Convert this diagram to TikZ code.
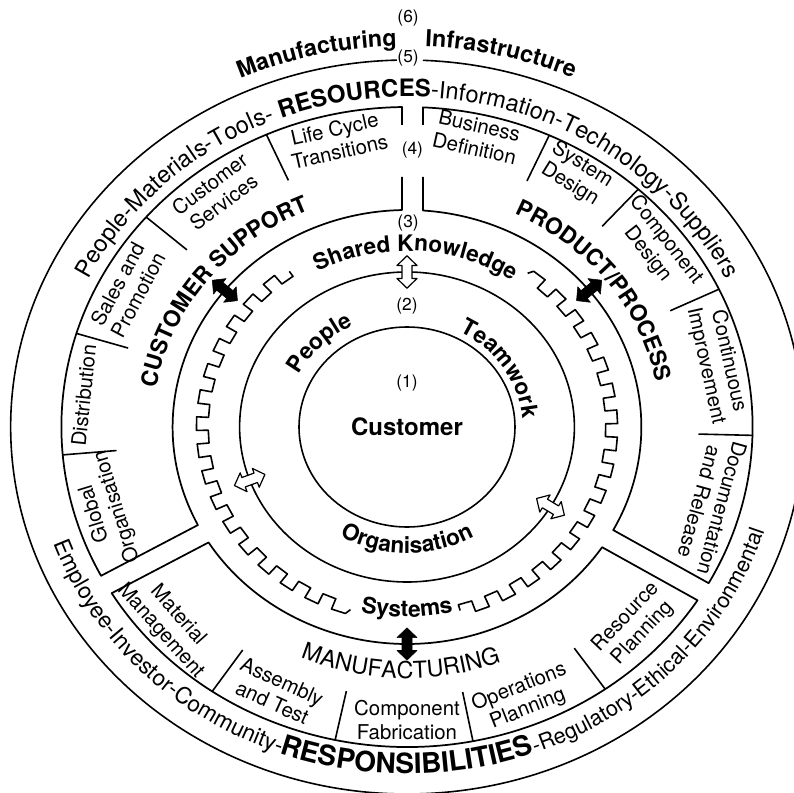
\documentclass[tikz,border=0pt]{standalone}
\usepackage{fontspec}
\setmainfont{TeX Gyre Heros}
\usetikzlibrary{decorations.text, calc}

\newcommand{\ringrm}{\fontsize{17.7}{19}\selectfont\mdseries}
\newcommand{\ringbf}{\fontsize{18}{20}\selectfont\bfseries}
\newcommand{\lowrm}{\fontsize{17}{19}\selectfont\mdseries}
\newcommand{\lowrmb}{\fontsize{16.3}{18}\selectfont\mdseries}
\newcommand{\lowbf}{\fontsize{21}{23}\selectfont\bfseries}
\newcommand{\topbf}{\fontsize{17.5}{19}\selectfont\bfseries}
\newcommand{\sectbf}{\fontsize{17}{19}\selectfont\bfseries}
\newcommand{\sectrm}{\fontsize{17.5}{19}\selectfont\mdseries}
\newcommand{\bandbf}{\fontsize{17}{19}\selectfont\bfseries}
\newcommand{\boxfont}{\fontsize{15.3}{17.5}\selectfont}
\newcommand{\numfont}{\fontsize{13}{15}\selectfont}

\tikzset{
  ring/.style={line width=1.2pt},
  boxline/.style={line width=1.3pt},
  curved/.style={decorate, decoration={text along path, text={#1}, text align=center}},
  curvedleft/.style={decorate, decoration={text along path, text={#1}, text align=left}},
  curvedright/.style={decorate, decoration={text along path, text={#1}, text align=right}},
  boxtext/.style={font=\boxfont, align=center, inner sep=0pt},
  num/.style={font=\numfont, inner sep=0pt},
  dblarrow/.pic={
    \path[pic actions] (-15,0) -- (-6,10) -- (-6,5) -- (6,5) -- (6,10) -- (15,0)
      -- (6,-10) -- (6,-5) -- (-6,-5) -- (-6,-10) -- cycle;
  },
}

\begin{document}
\begin{tikzpicture}[x=0.81pt, y=0.75pt, line join=round]
  \useasboundingbox (-376.85,-365) rectangle (358.33,427);

  % inner circles
  \draw[ring] (0,0) circle (100);
  \draw[ring] (0,0) circle (155);
  % outer ring, open at the top for (5)
  \draw[ring] (91.45:367) arc[start angle=91.45, end angle=447.69, radius=367];

  % toothed ring, left and right halves (pitch 8 deg)
  \draw[ring] (125:190) \foreach \a in {125,133,...,245} { -- (\a:184) -- (\a+4:184) -- (\a+4:195) -- (\a+8:195) } -- (254:190);
  \draw[ring] (-75:190) \foreach \a in {-75,-67,...,45} { -- (\a:184) -- (\a+4:184) -- (\a+4:195) -- (\a+8:195) } -- (54:190);

  % sector boxes, R3=217 and R4=320; channels half width 10
  % top channel lines at x=-4.6 and x=14.8, broken for (4)
  \draw[boxline] (-4.6,302) -- (90.82:320) arc[start angle=90.82, end angle=207.71, radius=320]
    -- (206.86:217) arc[start angle=206.86, end angle=91.21, radius=217] -- (-4.6,250);
  \draw[boxline] (14.8,302) -- (87.35:320) arc[start angle=87.35, end angle=-29.21, radius=320]
    -- (-28.36:217) arc[start angle=-28.36, end angle=86.09, radius=217] -- (14.8,250);
  \draw[boxline] (211.29:320) arc[start angle=211.29, end angle=327.21, radius=320]
    -- (326.36:217) arc[start angle=326.36, end angle=212.14, radius=217] -- cycle;

  % dividers between the sub boxes
  \foreach \a in {114,139,163,185,65.7,48,25.5,-1.5,235.7,258,281,305}
    \draw[ring] (\a:270) -- (\a:320);

  % arrows
  \foreach \a in {141,39,270}
    \pic[draw, fill=black, rotate=\a] at (\a:217) {dblarrow};
  \foreach \a in {90,200,329}
    \pic[draw, fill=white, line width=0.9pt, rotate=\a] at (\a:155) {dblarrow};

  % numbers and centre
  \node[num] (n1) at (0,44) {(1)};
  \node[font=\fontsize{18}{20}\selectfont\bfseries] (customer) at (0,0) {Customer};
  \node[num] (n2) at (0,121) {(2)};
  \node[num] (n3) at (1,204) {(3)};
  \node[num] (n4) at (5,277) {(4)};
  \node[num] (n5) at (1,369) {(5)};
  \node[num] (n6) at (1,409) {(6)};

  % curved labels
  \path[curved={|\topbf|Manufacturing}] (143:381) arc[start angle=143, end angle=63, radius=381];
  \path[curved={|\topbf|Infrastructure}] (116.5:381) arc[start angle=116.5, end angle=36.5, radius=381];
  \path[curved={|\ringrm|People-Materials-Tools- |\ringbf|RESOURCES|\ringrm|-Information-Technology-Suppliers}]
    (180:330) arc[start angle=180, end angle=0, radius=330];
  % bottom ring text in three parts
  \path[curvedright={|\lowrm|Employee-Investor-Community-}] (180:347) arc[start angle=180, end angle=250.2, radius=347];
  \path[curved={|\lowbf|RESPONSIBILITIES}] (240:347) arc[start angle=240, end angle=300, radius=347];
  \path[curvedleft={|\lowrmb|-Regulatory-Ethical-Environmental}] (290:347) arc[start angle=290, end angle=370, radius=347];
  \path[curved={|\sectbf|CUSTOMER SUPPORT}] (213:235) arc[start angle=213, end angle=73, radius=235];
  \path[curved={|\sectbf|PRODUCT/PROCESS}] (106.5:235) arc[start angle=106.5, end angle=-33.5, radius=235];
  \path[curved={|\sectrm|MANUFACTURING}] (198.5:251) arc[start angle=198.5, end angle=338.5, radius=251];
  \path[curved={|\bandbf|Shared Knowledge}] (157:176) arc[start angle=157, end angle=17, radius=176];
  \path[curved={|\bandbf|Systems}] (210:190) arc[start angle=210, end angle=330, radius=190];
  \path[curved={|\bandbf|People}] (175:113) arc[start angle=175, end angle=95, radius=113];
  \path[curved={|\bandbf|Teamwork}] (73.4:107) arc[start angle=73.4, end angle=-6.6, radius=107];
  \path[curved={|\bandbf|Organisation}] (210:126) arc[start angle=210, end angle=330, radius=126];

  % customer support sub boxes
  \node[boxtext, rotate=12.7] (lifecycle) at (102.7:294) {Life Cycle\\Transitions};
  \node[boxtext, rotate=37] (services) at (127:293) {Customer\\Services};
  \node[boxtext, rotate=62] (sales) at (152:293) {Sales and\\Promotion};
  \node[boxtext, rotate=84] (distribution) at (174:301) {Distribution};
  \node[boxtext, rotate=107] (global) at (196.6:291) {Global\\Organisation};
  % product/process sub boxes
  \node[boxtext, rotate=-12.6] (business) at (77.4:297) {Business\\Definition};
  \node[boxtext, rotate=-31.8] (system) at (58.2:297) {System\\Design};
  \node[boxtext, rotate=-52.1] (compdesign) at (37.9:293) {Component\\Design};
  \node[boxtext, rotate=-77.5] (improve) at (12.5:294) {Continuous\\Improvement};
  \node[boxtext, rotate=-105.5] (release) at (-15.5:292) {Documentation\\and Release};
  % manufacturing sub boxes
  \node[boxtext, rotate=-48.3] (material) at (221.7:295) {Material\\Management};
  \node[boxtext, rotate=-24.4] (assembly) at (245.6:291) {Assembly\\and Test};
  \node[boxtext] (fabrication) at (270:293) {Component\\Fabrication};
  \node[boxtext, rotate=21.7] (operations) at (291.7:292) {Operations\\Planning};
  \node[boxtext, rotate=46.7] (resource) at (316.7:289) {Resource\\Planning};
\end{tikzpicture}
\end{document}
